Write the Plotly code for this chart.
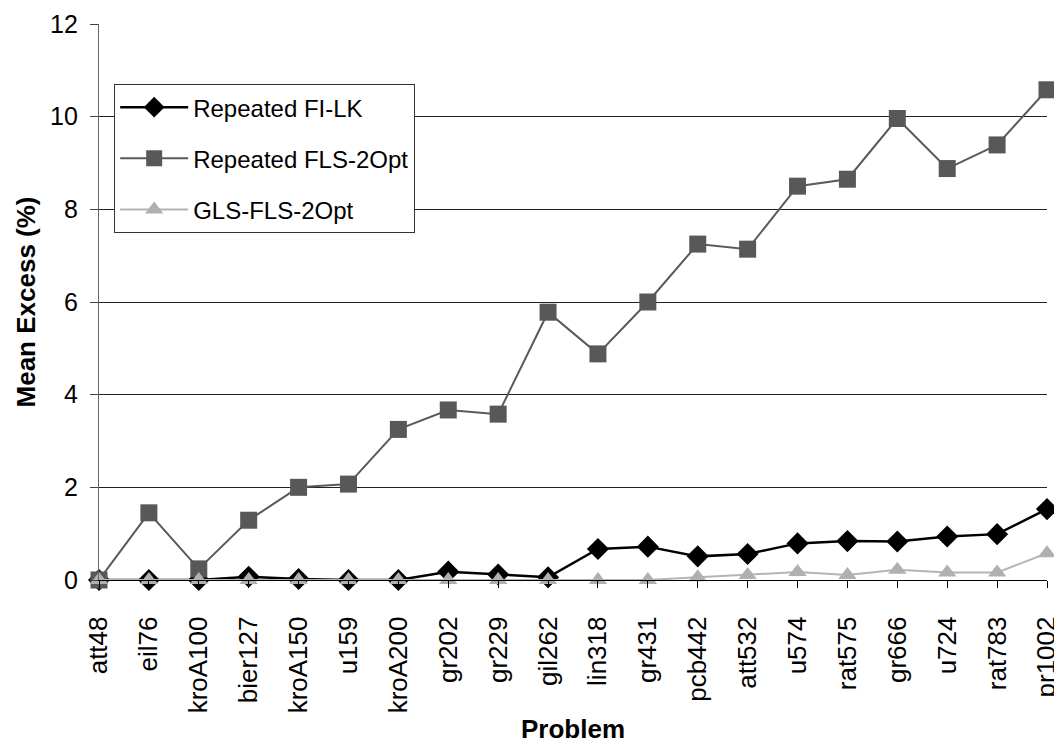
import plotly.graph_objects as go

problems = ["att48", "eil76", "kroA100", "bier127", "kroA150", "u159", "kroA200",
            "gr202", "gr229", "gil262", "lin318", "gr431", "pcb442", "att532",
            "u574", "rat575", "gr666", "u724", "rat783", "pr1002"]

fi_lk = [0.0, 0.0, 0.0, 0.07, 0.02, 0.0, 0.0, 0.18, 0.12, 0.06, 0.67, 0.72,
         0.51, 0.56, 0.79, 0.84, 0.83, 0.94, 0.99, 1.53]

fls_2opt = [0.0, 1.45, 0.24, 1.29, 2.0, 2.07, 3.25, 3.67, 3.58, 5.78, 4.88, 6.0,
            7.25, 7.14, 8.5, 8.65, 9.96, 8.88, 9.39, 10.58]

gls_fls_2opt = [0.0, 0.0, 0.0, 0.0, 0.0, 0.0, 0.0, 0.0, 0.0, 0.0, 0.0, 0.0,
                0.06, 0.11, 0.17, 0.11, 0.22, 0.16, 0.16, 0.58]

y_ticks = [0, 2, 4, 6, 8, 10, 12]

FONT = "Liberation Sans, Arial, sans-serif"

fig = go.Figure()
fig.add_trace(go.Scatter(
    x=problems, y=fi_lk, name="Repeated FI-LK", mode="lines+markers",
    line=dict(color="#000000", width=2.5),
    marker=dict(symbol="diamond", size=17, color="#000000"),
    cliponaxis=False, legendgroup="a"))
fig.add_trace(go.Scatter(
    x=problems, y=fls_2opt, name="Repeated FLS-2Opt", mode="lines+markers",
    line=dict(color="#5a5a5a", width=2),
    marker=dict(symbol="square", size=17, color="#585858"),
    cliponaxis=False, legendgroup="b"))
fig.add_trace(go.Scatter(
    x=problems, y=gls_fls_2opt, name="GLS-FLS-2Opt", mode="lines+markers",
    line=dict(color="#b4b4b4", width=2),
    marker=dict(symbol="triangle-up", size=16, color="#b0b0b0"),
    cliponaxis=False, legendgroup="c"))

fig.update_layout(
    width=1054, height=735,
    margin=dict(l=91, r=15, t=16, b=163, autoexpand=False),
    paper_bgcolor="white", plot_bgcolor="white",
    font=dict(family=FONT, color="black", size=24),
    showlegend=True,
    legend=dict(
        x=0.016, y=0.892, xanchor="left", yanchor="top",
        bgcolor="white", bordercolor="#333333", borderwidth=1,
        font=dict(family=FONT, size=24, color="black"),
        tracegroupgap=17, itemwidth=68,
    ),
    xaxis=dict(
        type="category", range=[0, 19], automargin=False,
        showgrid=False, showline=True, linecolor="black", linewidth=1.2,
        ticks="outside", ticklen=7, tickcolor="black", tickangle=-90,
        tickfont=dict(family=FONT, size=26, color="black"),
        ticklabelstandoff=18,
        zeroline=False,
    ),
    yaxis=dict(
        range=[0, 12], tickvals=y_ticks, automargin=False,
        showgrid=True, gridcolor="#222222", gridwidth=1,
        showline=True, linecolor="#666666", linewidth=1.2,
        ticks="outside", ticklen=8, tickcolor="#444444",
        tickfont=dict(family=FONT, size=25, color="black"),
        ticklabelstandoff=7,
        title=dict(text="<b>Mean Excess (%)</b>", font=dict(family=FONT, size=26, color="black"),
                   standoff=6),
        zeroline=False,
    ),
    annotations=[dict(
        text="<b>Problem</b>", xref="paper", yref="paper", x=0.5, y=-0.268,
        xanchor="center", yanchor="middle", showarrow=False,
        font=dict(family=FONT, size=26, color="black"),
    )],
)

fig.write_html("out.html")
